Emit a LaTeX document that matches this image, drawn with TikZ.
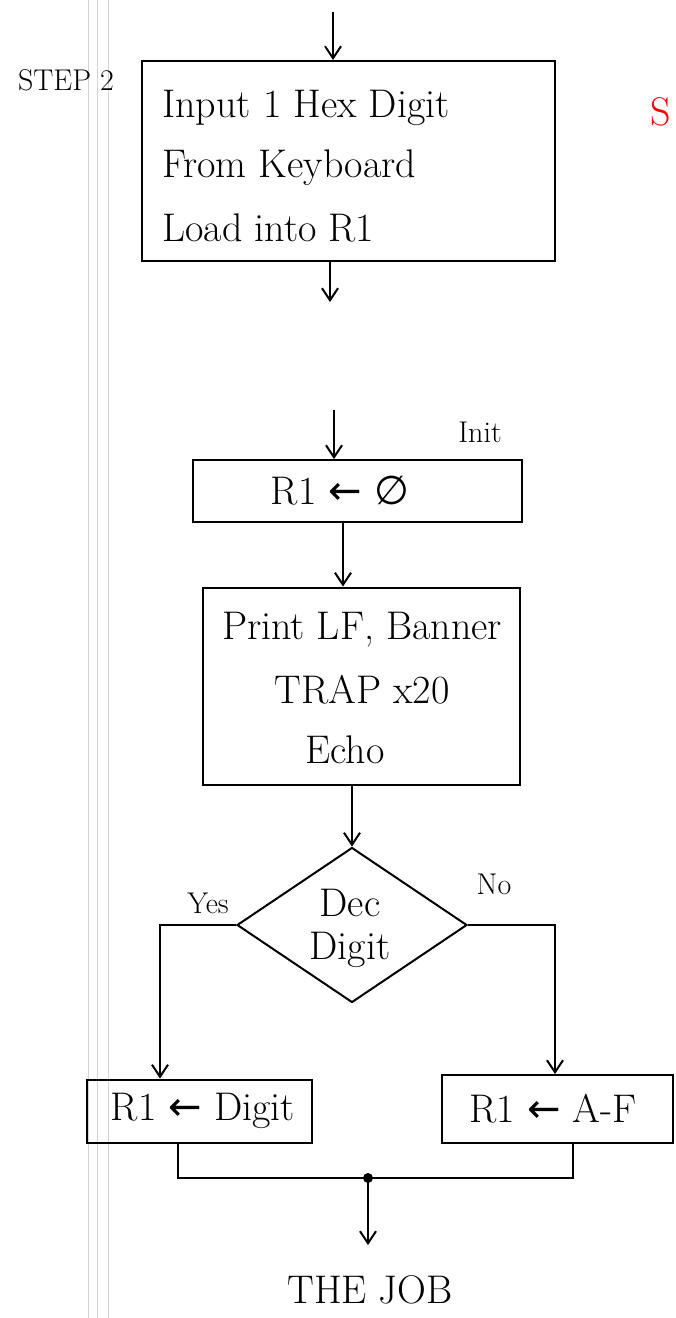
\documentclass[tikz,border=0pt]{standalone}
\usepackage{fontspec}
\newfontfamily\symfont{DejaVu Sans}
\usetikzlibrary{arrows.meta,shapes.geometric}

\begin{document}
\begin{tikzpicture}[x=1pt,y=-1pt,
        line width=2pt,
        box/.style={draw, line width=2pt, inner sep=0pt},
        hand/.style={font=\fontsize{40}{48}\selectfont},
        small/.style={font=\fontsize{30}{36}\selectfont},
        flow/.style={-{Straight Barb[length=12pt,width=16pt]}, line width=2pt}]
        \useasboundingbox (0,0) rectangle (676,1318);

        % notebook margin
        \draw[gray!35, line width=1pt] (88,0) -- (88,1318);
        \draw[gray!35, line width=1pt] (97,0) -- (97,1318);
        \draw[gray!35, line width=1pt] (108,0) -- (108,1318);

        % step 2 box
        \coordinate (in1) at (333,12);
        \node[box, minimum width=413pt, minimum height=200pt] (input) at (348,161) {};
        \node[hand, anchor=west] (l1) at (158,108) {Input 1 Hex Digit};
        \node[hand, anchor=west] (l2) at (158,168) {From Keyboard};
        \node[hand, anchor=west] (l3) at (158,228) {Load into R1};
        \node[small] (step) at (66,80) {STEP 2};
        \node[hand, red, anchor=west] (next) at (646,112) {S};
        \coordinate (out1) at (330,302);
        \draw[flow] (in1) -- (in1 |- input.north);
        \draw[flow] (input.south -| out1) -- (out1);

        % init
        \coordinate (in2) at (334,410);
        \node[box, minimum width=329pt, minimum height=62pt] (init) at (357,491) {};
        \node[hand] (zero) at (340,491) {R1 {\symfont ←} {\symfont ∅}};
        \node[small] (initlbl) at (480,432) {Init};
        \draw[flow] (in2) -- (in2 |- init.north);

        % print banner
        \node[box, minimum width=317pt, minimum height=197pt] (print) at (361,686) {};
        \node[hand] (p1) at (362,630) {Print LF, Banner};
        \node[hand] (p2) at (362,690) {TRAP x20};
        \node[hand] (p3) at (345,750) {Echo};
        \draw[flow] (init.south -| 343,0) -- (print.north -| 343,0);

        % decision
        \node[draw, diamond, aspect=1.48, minimum width=230pt, minimum height=155pt,
              inner sep=0pt, line width=2pt] (dec) at (352,925) {};
        \node[hand] (d1) at (350,903) {Dec};
        \node[hand] (d2) at (350,950) {Digit};
        \draw[flow] (print.south -| dec.north) -- (dec.north);

        % branches
        \node[box, minimum width=225pt, minimum height=63pt] (dig) at (199,1111) {};
        \node[hand] (dtxt) at (203,1111) {R1 {\symfont ←} Digit};
        \node[box, minimum width=231pt, minimum height=68pt] (af) at (557,1109) {};
        \node[hand] (atxt) at (553,1109) {R1 {\symfont ←} A-F};
        \node[small] (yes) at (208,903) {Yes};
        \node[small] (no) at (494,884) {No};
        \coordinate (yturn) at (160,925);
        \coordinate (nturn) at (555,925);
        \draw[flow] (dec.west) -- (yturn) -- (yturn |- dig.north);
        \draw[flow] (dec.east) -- (nturn) -- (nturn |- af.north);

        % merge
        \coordinate (join) at (368,1178);
        \node[hand] (job) at (370,1290) {THE JOB};
        \draw (dig.south -| 178,0) -- (178,1178) -- (573,1178) -- (af.south -| 573,0);
        \fill (join) circle (5pt);
        \draw[flow] (join) -- (368,1245);
    \end{tikzpicture}
\end{document}
